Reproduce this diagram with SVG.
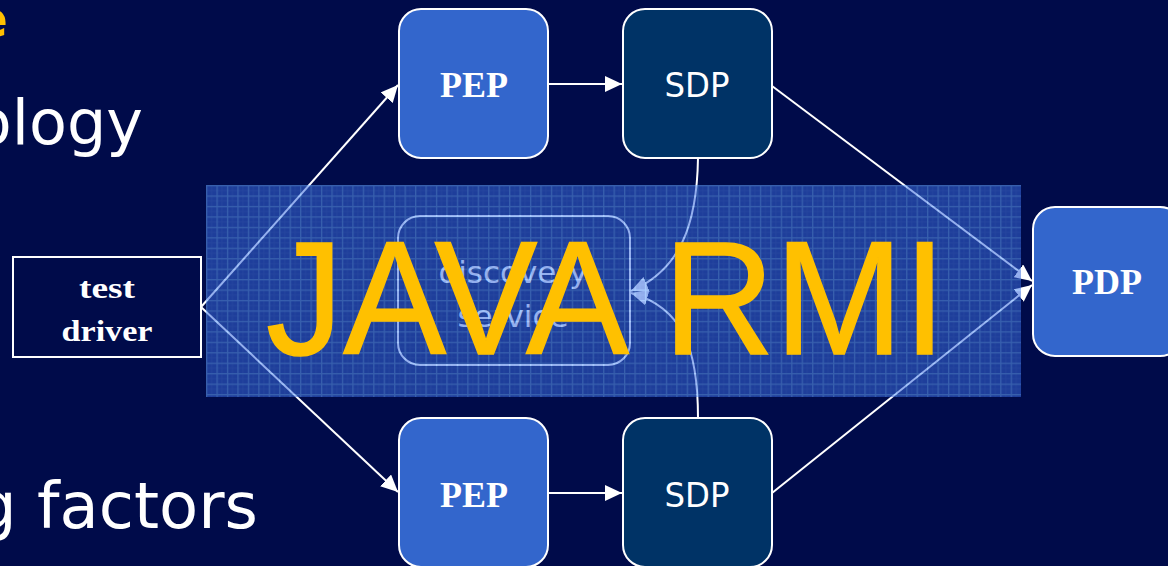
<svg xmlns="http://www.w3.org/2000/svg" width="1168" height="566" viewBox="0 0 1168 566">
  <defs>
    <style>
      .box { stroke: #ffffff; stroke-width: 2; }
      .pep { fill: #3366cc; }
      .sdp { fill: #003366; }
      .serif { font-family: "Liberation Serif", "Times New Roman", serif; font-weight: bold; fill: #ffffff; text-anchor: middle; }
      .sans { font-family: "DejaVu Sans", Verdana, sans-serif; fill: #ffffff; text-anchor: middle; }
      .slide { font-family: "DejaVu Sans", Verdana, sans-serif; fill: #ffffff; }
      .link { fill: none; stroke: #ffffff; stroke-width: 2; marker-end: url(#head); }
    </style>
    <marker id="head" markerUnits="userSpaceOnUse" markerWidth="18" markerHeight="16" refX="17" refY="8" orient="auto">
      <path d="M0,0 L17,8 L0,16 z" fill="#ffffff"/>
    </marker>
    <pattern id="grid" patternUnits="userSpaceOnUse" x="206" y="185" width="10.45" height="10.45">
      <rect width="10.45" height="10.45" fill="#3768dd"/>
      <rect x="5.2" y="0" width="0.8" height="10.45" fill="#4577e6"/>
      <rect x="0" y="5.2" width="10.45" height="0.8" fill="#4577e6"/>
      <rect x="0" y="0" width="10.45" height="1.3" fill="#64a4ff"/>
      <rect x="0" y="0" width="1.3" height="10.45" fill="#64a4ff"/>
    </pattern>
  </defs>

  <!-- page background -->
  <rect width="1168" height="566" fill="#000b4a"/>

  <!-- slide text cut at the left edge -->
  <text x="8" y="37" font-family="'DejaVu Sans', Verdana, sans-serif" font-size="52" font-weight="bold" fill="#ffc000" text-anchor="end">e</text>
  <text class="slide" x="143" y="144" font-size="62" text-anchor="end">ology</text>
  <text class="slide" x="-24" y="528" font-size="64">g factors</text>

  <!-- connectors -->
  <g id="connectors">
    <line class="link" x1="201" y1="307" x2="398" y2="85"/>
    <line class="link" x1="201" y1="307" x2="398" y2="492"/>
    <line class="link" x1="548" y1="84" x2="622" y2="84"/>
    <line class="link" x1="548" y1="493" x2="622" y2="493"/>
    <line class="link" x1="772" y1="86" x2="1032" y2="281"/>
    <line class="link" x1="772" y1="493" x2="1032" y2="285"/>
    <path class="link" d="M698,158 C697,225 680,270 631,291"/>
    <path class="link" d="M698,418 C698,350 684,308 631,293"/>
  </g>

  <!-- nodes -->
  <g id="test-driver">
    <rect class="box" x="13" y="257" width="188" height="100" fill="#000b4a"/>
    <text class="serif" x="107" y="298" font-size="30" textLength="56" lengthAdjust="spacingAndGlyphs">test</text>
    <text class="serif" x="107" y="341" font-size="30" textLength="91" lengthAdjust="spacingAndGlyphs">driver</text>
  </g>
  <g id="pep-top">
    <rect class="box pep" x="399" y="9" width="149" height="149" rx="22"/>
    <text class="serif" x="474" y="97" font-size="36">PEP</text>
  </g>
  <g id="sdp-top">
    <rect class="box sdp" x="623" y="9" width="149" height="149" rx="22"/>
    <text class="sans" x="697" y="97" font-size="34" textLength="65" lengthAdjust="spacingAndGlyphs">SDP</text>
  </g>
  <g id="pep-bottom">
    <rect class="box pep" x="399" y="418" width="149" height="149" rx="22"/>
    <text class="serif" x="474" y="507" font-size="36">PEP</text>
  </g>
  <g id="sdp-bottom">
    <rect class="box sdp" x="623" y="418" width="149" height="149" rx="22"/>
    <text class="sans" x="697" y="507" font-size="34" textLength="65" lengthAdjust="spacingAndGlyphs">SDP</text>
  </g>
  <g id="pdp">
    <rect class="box pep" x="1033" y="207" width="149" height="149" rx="22"/>
    <text class="serif" x="1107" y="294" font-size="36">PDP</text>
  </g>
  <g id="discovery-service">
    <rect class="box" x="398" y="216" width="232" height="149" rx="22" fill="none"/>
    <text class="sans" x="513" y="283" font-size="31">discovery</text>
    <text class="sans" x="513" y="327" font-size="31">service</text>
  </g>

  <!-- translucent grid band with its label -->
  <g id="java-rmi">
    <rect x="206" y="185" width="815" height="212" fill="url(#grid)" opacity="0.55"/>
    <text x="266" y="354" font-family="'Liberation Sans', Arial, sans-serif" font-size="161" fill="#ffc000" stroke="#ffc000" stroke-width="1.5" textLength="680" lengthAdjust="spacingAndGlyphs">JAVA RMI</text>
  </g>
</svg>
